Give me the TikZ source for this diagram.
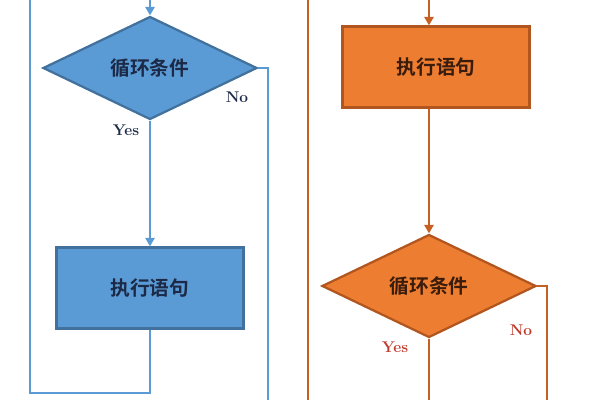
\documentclass[tikz,border=0pt]{standalone}
\usepackage{fontspec}
\newfontfamily\cjk{Noto Sans CJK SC}[BoldFont={Noto Sans CJK SC Bold}]
\usetikzlibrary{shapes.geometric,arrows.meta}
\definecolor{bluefill}{HTML}{5B9BD5}
\definecolor{blueedge}{HTML}{41719C}
\definecolor{blueline}{HTML}{5B9BD5}
\definecolor{bluetext}{HTML}{1C2A48}
\definecolor{orangefill}{HTML}{ED7D31}
\definecolor{orangeedge}{HTML}{B0561E}
\definecolor{orangeline}{HTML}{C65F22}
\definecolor{orangetext}{HTML}{3A1C0C}
\definecolor{nored}{HTML}{C0392B}
\tikzset{
  stepbox/.style={draw, line width=1.6pt, minimum width=4.675cm, minimum height=2.025cm, font=\cjk\bfseries\fontsize{14}{16}\selectfont},
  condbox/.style={diamond, draw, line width=1.6pt, inner sep=0pt, minimum width=5.35cm, minimum height=2.575cm, font=\cjk\bfseries\fontsize{14}{16}\selectfont},
  flow/.style={line width=1.9pt},
  answer/.style={font=\bfseries\fontsize{11}{13}\selectfont},
}
\begin{document}
\begin{tikzpicture}[x=0.025cm, y=-0.025cm, >={Triangle[length=6pt,width=6.5pt]}]
\useasboundingbox (0,0) rectangle (600,400);

% left: while loop
\node[condbox, fill=bluefill, draw=blueedge, text=bluetext] (cond1) at (150,68) {循环条件};
\node[stepbox, fill=bluefill, draw=blueedge, text=bluetext] (step1) at (150,288) {执行语句};
\coordinate (top1) at (150,0);
\coordinate (back1) at (30,393);
\coordinate (ret1) at (30,0);
\coordinate (out1) at (268,400);
\draw[blueline, flow, ->] (top1) -- (cond1.north);
\draw[blueline, flow, ->] (cond1.south) -- (step1.north);
\draw[blueline, flow] (cond1.east) -| (out1);
\draw[blueline, flow] (step1.south) |- (back1) -- (ret1);
\node[answer, text=bluetext] (yes1) at (126,130) {Yes};
\node[answer, text=bluetext] (no1) at (237,97) {No};

% right: do-while loop
\node[stepbox, fill=orangefill, draw=orangeedge, text=orangetext] (step2) at (436,67) {执行语句};
\node[condbox, fill=orangefill, draw=orangeedge, text=orangetext] (cond2) at (429,286) {循环条件};
\coordinate (top2) at (429,0);
\coordinate (ret2a) at (308,0);
\coordinate (ret2b) at (308,400);
\coordinate (out2) at (547,400);
\coordinate (yesout2) at (429,400);
\draw[orangeline, flow] (ret2a) -- (ret2b);
\draw[orangeline, flow, ->] (top2) -- (top2 |- step2.north);
\draw[orangeline, flow, ->] (cond2.north |- step2.south) -- (cond2.north);
\draw[orangeline, flow] (cond2.east) -| (out2);
\draw[orangeline, flow] (cond2.south) -- (yesout2);
\node[answer, text=nored] (yes2) at (395,347) {Yes};
\node[answer, text=nored] (no2) at (521,330) {No};
\end{tikzpicture}
\end{document}
